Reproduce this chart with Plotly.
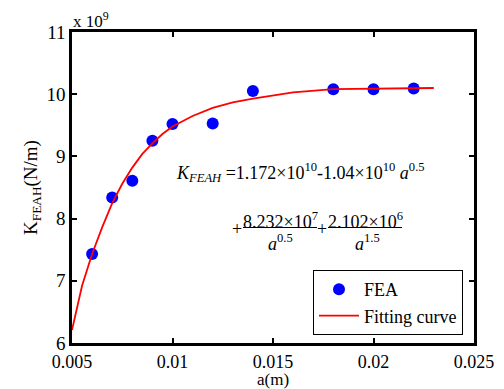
import plotly.graph_objects as go

# FEA data (a in m, K in 1e9 N/m)
fea_a = [0.006, 0.007, 0.008, 0.009, 0.010, 0.012, 0.014, 0.018, 0.020, 0.022]
fea_k = [7.43, 8.34, 8.61, 9.25, 9.52, 9.53, 10.05, 10.08, 10.08, 10.09]

# Fitting curve
fit_a = [0.005, 0.0055, 0.006, 0.0065, 0.007, 0.0075, 0.008, 0.0085, 0.009, 0.0095,
         0.010, 0.011, 0.012, 0.013, 0.014, 0.016, 0.018, 0.020, 0.022, 0.023]
fit_k = [6.21, 6.92, 7.43, 7.86, 8.25, 8.56, 8.82, 9.04, 9.21, 9.36,
         9.48, 9.65, 9.78, 9.87, 9.93, 10.03, 10.08, 10.09, 10.10, 10.10]

x_ticks = [0.005, 0.01, 0.015, 0.02, 0.025]
x_ticktext = ["0.005", "0.01", "0.015", "0.02", "0.025"]
y_ticks = [6, 7, 8, 9, 10, 11]

FONT = "Times New Roman, Liberation Serif, serif"
L, R, T, B = 72, 30, 32, 46
W, H = 504, 389
PW, PH = W - L - R, H - T - B


def px(x):
    return (x - L) / PW


def py(y):
    return (H - B - y) / PH


fig = go.Figure()
fig.add_trace(go.Scatter(x=fea_a, y=fea_k, mode="markers", name="FEA",
                         marker=dict(color="#0000FF", size=12)))
fig.add_trace(go.Scatter(x=fit_a, y=fit_k, mode="lines", name="Fitting curve",
                         line=dict(color="#FF0000", width=1.8)))

axis_common = dict(showline=True, linecolor="black", linewidth=2.5, mirror="ticks",
                   ticks="inside", ticklen=5, tickwidth=1.5, tickcolor="black",
                   showgrid=False, zeroline=False, automargin=False)

fig.update_layout(
    width=W, height=H,
    margin=dict(l=L, r=R, t=T, b=B, autoexpand=False),
    plot_bgcolor="white", paper_bgcolor="white",
    font=dict(family=FONT, size=19, color="black"),
    xaxis=dict(range=[0.005, 0.025], tickvals=x_ticks, ticktext=x_ticktext,
               ticklabelstandoff=1, tickfont=dict(family=FONT, size=18, color="black"),
               **axis_common),
    yaxis=dict(range=[6, 11], tickvals=y_ticks, tickfont=dict(family=FONT, size=19, color="black"),
               title=dict(text="K<sub>FEAH</sub>(N/m)", font=dict(family=FONT, size=19), standoff=4),
               **axis_common),
    legend=dict(x=px(463), y=py(335), xanchor="right", yanchor="bottom",
                bgcolor="white", bordercolor="black", borderwidth=1,
                itemwidth=40,
                font=dict(family=FONT, size=18), tracegroupgap=0),
    showlegend=True,
)

ann = []
# x-axis title
ann.append(dict(text="a(m)", x=0.5, y=py(368.5), xanchor="center", yanchor="top",
                font=dict(family=FONT, size=17), borderpad=0))
ann.append(dict(text="x 10<sup>9</sup>", x=px(71), y=py(20), xanchor="left", yanchor="middle",
                font=dict(family=FONT, size=17)))
eq_font = dict(family=FONT, size=18, color="black")
ann.append(dict(text="<i>K</i><sub><i>FEAH</i></sub> =1.172×10<sup>10</sup>-1.04×10<sup>10</sup> <i>a</i><sup>0.5</sup>",
                x=px(174), y=py(172), xanchor="left", yanchor="middle", font=eq_font))
ann.append(dict(text="+", x=px(237), y=py(229), xanchor="center", yanchor="middle", font=eq_font))
ann.append(dict(text="8.232×10<sup>7</sup>", x=px(280), y=py(221), xanchor="center", yanchor="middle", font=eq_font))
ann.append(dict(text="<i>a</i><sup>0.5</sup>", x=px(280), y=py(242), xanchor="center", yanchor="middle", font=eq_font))
ann.append(dict(text="+", x=px(322), y=py(229), xanchor="center", yanchor="middle", font=eq_font))
ann.append(dict(text="2.102×10<sup>6</sup>", x=px(365), y=py(221), xanchor="center", yanchor="middle", font=eq_font))
ann.append(dict(text="<i>a</i><sup>1.5</sup>", x=px(367), y=py(242), xanchor="center", yanchor="middle", font=eq_font))
for a in ann:
    a.update(xref="paper", yref="paper", showarrow=False)
fig.update_layout(annotations=ann)

fig.add_shape(type="line", xref="paper", yref="paper", x0=px(243), x1=px(317), y0=py(227.5), y1=py(227.5),
              line=dict(color="black", width=1))
fig.add_shape(type="line", xref="paper", yref="paper", x0=px(328), x1=px(402), y0=py(227.5), y1=py(227.5),
              line=dict(color="black", width=1))

fig.write_html("out.html")
